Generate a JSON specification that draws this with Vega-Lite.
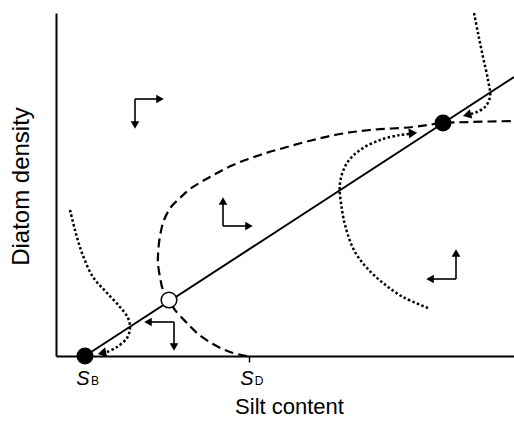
{
  "$schema": "https://vega.github.io/schema/vega-lite/v6.json",
  "width": 458,
  "height": 343,
  "autosize": "none",
  "padding": {"left": 56, "top": 13, "right": 0, "bottom": 68},
  "config": {"view": {"stroke": null}, "font": "Liberation Sans"},
  "datasets": {
    "nullcline": [
      {"i": 0, "x": 191, "y": 0}, {"i": 1, "x": 174, "y": 4}, {"i": 2, "x": 157, "y": 12},
      {"i": 3, "x": 141, "y": 23}, {"i": 4, "x": 131, "y": 33}, {"i": 5, "x": 119, "y": 46},
      {"i": 6, "x": 113, "y": 56}, {"i": 7, "x": 107, "y": 66}, {"i": 8, "x": 104, "y": 79},
      {"i": 9, "x": 102, "y": 92}, {"i": 10, "x": 102, "y": 101}, {"i": 11, "x": 103, "y": 113},
      {"i": 12, "x": 105, "y": 125}, {"i": 13, "x": 108, "y": 136}, {"i": 14, "x": 115, "y": 149},
      {"i": 15, "x": 124, "y": 158}, {"i": 16, "x": 134, "y": 167}, {"i": 17, "x": 154, "y": 179},
      {"i": 18, "x": 177, "y": 191}, {"i": 19, "x": 204, "y": 201}, {"i": 20, "x": 231, "y": 209},
      {"i": 21, "x": 257, "y": 216}, {"i": 22, "x": 284, "y": 222}, {"i": 23, "x": 314, "y": 226},
      {"i": 24, "x": 357, "y": 229}, {"i": 25, "x": 387, "y": 233}, {"i": 26, "x": 414, "y": 234},
      {"i": 27, "x": 458, "y": 235}
    ],
    "trajectories": [
      {"traj": "a", "i": 0, "x": 14, "y": 146}, {"traj": "a", "i": 1, "x": 19, "y": 126},
      {"traj": "a", "i": 2, "x": 26, "y": 103}, {"traj": "a", "i": 3, "x": 37, "y": 79},
      {"traj": "a", "i": 4, "x": 51, "y": 63}, {"traj": "a", "i": 5, "x": 64, "y": 49},
      {"traj": "a", "i": 6, "x": 72, "y": 38}, {"traj": "a", "i": 7, "x": 74, "y": 28},
      {"traj": "a", "i": 8, "x": 71, "y": 18}, {"traj": "a", "i": 9, "x": 61, "y": 9},
      {"traj": "a", "i": 10, "x": 51, "y": 4},
      {"traj": "b", "i": 0, "x": 372, "y": 48}, {"traj": "b", "i": 1, "x": 347, "y": 59},
      {"traj": "b", "i": 2, "x": 327, "y": 73}, {"traj": "b", "i": 3, "x": 311, "y": 88},
      {"traj": "b", "i": 4, "x": 299, "y": 104}, {"traj": "b", "i": 5, "x": 291, "y": 124},
      {"traj": "b", "i": 6, "x": 286, "y": 146}, {"traj": "b", "i": 7, "x": 284, "y": 173},
      {"traj": "b", "i": 8, "x": 291, "y": 193}, {"traj": "b", "i": 9, "x": 304, "y": 206},
      {"traj": "b", "i": 10, "x": 324, "y": 216}, {"traj": "b", "i": 11, "x": 344, "y": 221},
      {"traj": "b", "i": 12, "x": 353, "y": 222},
      {"traj": "c", "i": 0, "x": 418, "y": 343}, {"traj": "c", "i": 1, "x": 422, "y": 323},
      {"traj": "c", "i": 2, "x": 427, "y": 299}, {"traj": "c", "i": 3, "x": 432, "y": 276},
      {"traj": "c", "i": 4, "x": 434, "y": 259}, {"traj": "c", "i": 5, "x": 429, "y": 249},
      {"traj": "c", "i": 6, "x": 421, "y": 244}, {"traj": "c", "i": 7, "x": 415, "y": 242}
    ],
    "isocline": [{"x": 29, "y": 0}, {"x": 458, "y": 279}],
    "arrows": [
      {"x": 79, "y": 257, "x2": 104, "y2": 257}, {"x": 79, "y": 257, "x2": 79, "y2": 231},
      {"x": 167, "y": 130, "x2": 167, "y2": 155}, {"x": 167, "y": 130, "x2": 193, "y2": 130},
      {"x": 400, "y": 77, "x2": 400, "y2": 103}, {"x": 400, "y": 77, "x2": 374, "y2": 77},
      {"x": 118, "y": 34, "x2": 92, "y2": 34}, {"x": 118, "y": 34, "x2": 118, "y2": 9}
    ],
    "heads": [
      {"x": 104, "y": 257, "heading": 90}, {"x": 79, "y": 231, "heading": 180},
      {"x": 167, "y": 155, "heading": 0}, {"x": 193, "y": 130, "heading": 90},
      {"x": 400, "y": 103, "heading": 0}, {"x": 374, "y": 77, "heading": 270},
      {"x": 92, "y": 34, "heading": 270}, {"x": 118, "y": 9, "heading": 180}
    ],
    "trajHeads": [
      {"x": 46, "y": 3, "heading": 258},
      {"x": 357, "y": 223, "heading": 85},
      {"x": 411, "y": 241, "heading": 255}
    ],
    "equilibria": [
      {"x": 29, "y": 0, "stable": "yes"},
      {"x": 113, "y": 56, "stable": "no"},
      {"x": 387, "y": 233, "stable": "yes"}
    ],
    "thresholds": [
      {"x": 29, "y": 0, "s": "S", "sub": "B"},
      {"x": 193, "y": 0, "s": "S", "sub": "D"}
    ]
  },
  "encoding": {
    "x": {
      "field": "x", "type": "quantitative",
      "scale": {"domain": [0, 458], "nice": false, "zero": false},
      "axis": {
        "title": "Silt content", "values": [29, 193], "labels": false,
        "ticks": true, "tickSize": 6, "tickWidth": 1.5, "tickColor": "black",
        "domainColor": "black", "domainWidth": 2, "grid": false,
        "titleFontSize": 22, "titleFontWeight": "normal", "titleColor": "black",
        "titleX": 233, "titleY": 57, "titleAlign": "center", "titleBaseline": "alphabetic"
      }
    },
    "y": {
      "field": "y", "type": "quantitative",
      "scale": {"domain": [0, 343], "nice": false, "zero": false},
      "axis": {
        "title": "Diatom density", "labels": false, "ticks": false, "grid": false,
        "domainColor": "black", "domainWidth": 2,
        "titleFontSize": 24, "titleFontWeight": "normal", "titleColor": "black",
        "titleX": -28, "titleY": 173, "titleAngle": 270, "titleAlign": "center", "titleBaseline": "alphabetic"
      }
    }
  },
  "layer": [
    {
      "data": {"name": "nullcline"},
      "mark": {"type": "line", "color": "black", "strokeWidth": 2.2, "strokeDash": [9, 5], "interpolate": "catmull-rom"},
      "encoding": {"order": {"field": "i", "type": "quantitative"}}
    },
    {
      "data": {"name": "trajectories"},
      "mark": {"type": "line", "color": "black", "strokeWidth": 2.5, "strokeDash": [2.5, 2.3], "interpolate": "catmull-rom"},
      "encoding": {"detail": {"field": "traj"}, "order": {"field": "i", "type": "quantitative"}}
    },
    {
      "data": {"name": "isocline"},
      "mark": {"type": "line", "color": "black", "strokeWidth": 2},
      "encoding": {}
    },
    {
      "data": {"name": "arrows"},
      "mark": {"type": "rule", "color": "black", "strokeWidth": 1.6},
      "encoding": {"x2": {"field": "x2"}, "y2": {"field": "y2"}}
    },
    {
      "data": {"name": "heads"},
      "mark": {"type": "point", "shape": "triangle-up", "filled": true, "color": "black", "opacity": 1, "size": 75},
      "encoding": {"angle": {"field": "heading", "type": "quantitative", "scale": null}}
    },
    {
      "data": {"name": "trajHeads"},
      "mark": {"type": "point", "shape": "triangle-up", "filled": true, "color": "black", "opacity": 1, "size": 95},
      "encoding": {"angle": {"field": "heading", "type": "quantitative", "scale": null}}
    },
    {
      "data": {"name": "equilibria"},
      "transform": [{"filter": "datum.stable === 'yes'"}],
      "mark": {"type": "point", "shape": "circle", "filled": true, "color": "black", "opacity": 1, "size": 290}
    },
    {
      "data": {"name": "equilibria"},
      "transform": [{"filter": "datum.stable === 'no'"}],
      "mark": {"type": "point", "shape": "circle", "fill": "white", "stroke": "black", "strokeWidth": 1.5, "opacity": 1, "fillOpacity": 1, "size": 245}
    },
    {
      "data": {"name": "thresholds"},
      "mark": {"type": "text", "fontSize": 20, "fontStyle": "italic", "color": "black", "align": "center", "baseline": "alphabetic", "dx": -2, "dy": 29},
      "encoding": {"text": {"field": "s", "type": "nominal"}}
    },
    {
      "data": {"name": "thresholds"},
      "mark": {"type": "text", "fontSize": 12, "color": "black", "align": "center", "baseline": "alphabetic", "dx": 10, "dy": 29},
      "encoding": {"text": {"field": "sub", "type": "nominal"}}
    }
  ]
}
